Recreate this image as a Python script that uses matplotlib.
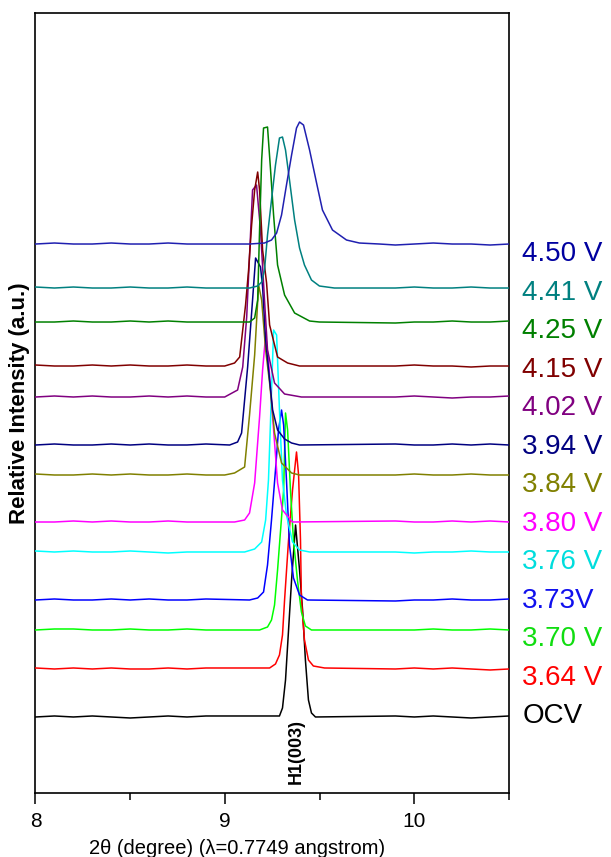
import matplotlib
matplotlib.use("Agg")
import matplotlib.pyplot as plt

plt.rcParams['font.family'] = ['Liberation Sans', 'DejaVu Sans']

# shared baseline positions (2theta) left and right of the (003) peak
wing_left = [8.0, 8.1, 8.2, 8.3, 8.4, 8.5, 8.6, 8.7, 8.8, 8.9]
wing_right = [9.9, 10.0, 10.1, 10.2, 10.3, 10.4, 10.5]

# OCV
ocv_left = [0, 1, 0, 1, 0, -1, 0, 1, 0, 1]
ocv_tt = [9.288, 9.304, 9.320, 9.336, 9.352, 9.373, 9.394, 9.410, 9.425, 9.441, 9.457, 9.478]
ocv_i = [1, 9, 37, 87, 137, 192, 147, 107, 57, 17, 4, 0]
ocv_right = [1, 0, 1, 0, -1, 0, 1]

# 3.64 V
v364_left = [1, 0, 1, 0, 1, 0, 0, 1, 0, 1]
v364_tt = [9.236, 9.267, 9.288, 9.304, 9.315, 9.336, 9.357, 9.378, 9.389, 9.399, 9.404, 9.420, 9.441, 9.467, 9.526]
v364_i = [1, 5, 14, 34, 69, 129, 179, 217, 194, 129, 69, 29, 9, 3, 1]
v364_right = [0, 1, 0, 1, 0, -1, 0]

# 3.70 V
v370_left = [0, 1, 1, 0, 0, 1, 0, 0, 1, 0]
v370_tt = [9.183, 9.225, 9.246, 9.262, 9.278, 9.294, 9.310, 9.320, 9.331, 9.346, 9.362, 9.383, 9.404, 9.425, 9.457]
v370_i = [0, 3, 10, 25, 60, 100, 140, 217, 200, 140, 90, 50, 18, 4, 0]
v370_right = [0, 0, 1, 0, 0, 1, 0]

# 3.73 V
v373_left = [0, 1, 0, 0, 1, 0, 1, 0, 0, 1]
v373_tt = [9.130, 9.173, 9.204, 9.225, 9.246, 9.267, 9.283, 9.299, 9.310, 9.325, 9.341, 9.362, 9.394, 9.436]
v373_i = [0, 2, 8, 35, 80, 130, 170, 190, 175, 120, 55, 22, 5, 0]
v373_right = [-1, 0, 0, 1, 0, 0, 1]

# 3.76 V
v376_left = [1, 0, 1, 0, 0, 1, 0, -1, 0, 0]
v376_tt = [9.104, 9.157, 9.194, 9.215, 9.230, 9.241, 9.257, 9.273, 9.288, 9.304, 9.325, 9.357, 9.394, 9.447]
v376_i = [0, 3, 10, 32, 72, 132, 222, 217, 142, 72, 37, 10, 2, 0]
v376_right = [0, -1, 0, 0, 1, 0, 0]

# 3.80 V
v380_left = [0, 0, 1, 0, 1, 0, 0, 1, 0, 0]
v380_tt = [9.051, 9.104, 9.130, 9.157, 9.183, 9.199, 9.215, 9.230, 9.252, 9.278, 9.304, 9.357]
v380_i = [0, 2, 9, 39, 105, 152, 187, 162, 105, 39, 12, 0]
v380_right = [1, 0, 0, 1, 0, 1, 0]

# 3.84 V
v384_left = [1, 0, 0, 1, 0, 1, 0, 0, 1, 0]
v384_tt = [8.999, 9.051, 9.104, 9.130, 9.157, 9.178, 9.194, 9.215, 9.236, 9.262, 9.299, 9.352, 9.394]
v384_i = [0, 2, 8, 60, 120, 190, 175, 125, 92, 42, 12, 2, 0]
v384_right = [0, 1, 0, 0, 1, 0, 0]

# 3.94 V
v394_left = [0, 1, 0, 0, 1, 0, 1, 0, 0, 1]
v394_tt = [9.025, 9.067, 9.088, 9.120, 9.146, 9.162, 9.188, 9.199, 9.215, 9.236, 9.252, 9.278, 9.315, 9.352, 9.394]
v394_i = [0, 3, 12, 78, 145, 187, 178, 158, 105, 65, 35, 15, 6, 2, 0]
v394_right = [1, 0, 0, 1, 0, 1, 0]

# 4.02 V
v402_left = [0, 1, 0, 1, 0, 0, 1, 0, 1, 0]
v402_tt = [8.999, 9.067, 9.094, 9.115, 9.146, 9.167, 9.188, 9.209, 9.225, 9.262, 9.315, 9.404]
v402_i = [0, 7, 30, 80, 207, 212, 167, 97, 47, 14, 3, 0]
v402_right = [0, 1, 0, -1, 0, 0, 1]

# 4.15 V
v415_left = [1, 0, 0, 1, 0, 1, 0, 0, 1, 0]
v415_tt = [8.999, 9.051, 9.078, 9.094, 9.109, 9.125, 9.141, 9.157, 9.173, 9.183, 9.199, 9.220, 9.236, 9.278, 9.331, 9.394]
v415_i = [0, 3, 9, 36, 61, 96, 141, 176, 194, 176, 116, 83, 41, 9, 3, 0]
v415_right = [0, 1, 0, 0, -1, 0, 0]

# 4.25 V
v425_left = [0, 0, 1, 0, 0, 1, 0, 1, 0, 0]
v425_tt = [9.051, 9.130, 9.157, 9.173, 9.183, 9.194, 9.204, 9.225, 9.241, 9.257, 9.278, 9.315, 9.368, 9.447, 9.499]
v425_i = [0, 0, 4, 22, 92, 162, 194, 195, 152, 107, 57, 27, 9, 1, 0]
v425_right = [-1, 0, 0, 1, 0, 0, 1]

# 4.41 V
v441_left = [1, 0, 1, 0, 0, 1, 0, 0, 1, 0]
v441_tt = [9.130, 9.173, 9.194, 9.209, 9.225, 9.246, 9.267, 9.288, 9.304, 9.320, 9.341, 9.368, 9.394, 9.420, 9.457, 9.499, 9.578]
v441_i = [0, 2, 6, 18, 53, 88, 123, 150, 151, 138, 108, 68, 40, 23, 8, 2, 0]
v441_right = [0, 1, 0, 0, 1, 0, 0]

# 4.50 V
v450_left = [0, 1, 0, 0, 1, 0, 0, 1, 0, 0]
v450_tt = [9.130, 9.209, 9.246, 9.273, 9.299, 9.325, 9.352, 9.378, 9.394, 9.415, 9.447, 9.484, 9.515, 9.568, 9.642, 9.710, 9.816]
v450_i = [0, 1, 4, 11, 29, 59, 89, 116, 122, 119, 94, 61, 34, 14, 4, 1, 0]
v450_right = [-1, 0, 1, 0, 0, -1, 0]

labels = ['OCV', '3.64 V', '3.70 V', '3.73V', '3.76 V', '3.80 V', '3.84 V',
          '3.94 V', '4.02 V', '4.15 V', '4.25 V', '4.41 V', '4.50 V']
offsets = [76, 124, 163, 193, 241, 271, 318, 348, 396, 427, 471, 505, 549]
line_colors = ['#000000', '#ff0000', '#00ff00', '#0000ff', '#00ffff', '#ff00ff', '#808000',
               '#000080', '#800080', '#800000', '#008000', '#008080', '#2020b0']
label_colors = ['#000000', '#ff0000', '#10dd10', '#1010ee', '#00dddd', '#ff00ff', '#808000',
                '#000080', '#800080', '#800000', '#008000', '#008080', '#0000a0']

curves = [
    (ocv_left, ocv_tt, ocv_i, ocv_right),
    (v364_left, v364_tt, v364_i, v364_right),
    (v370_left, v370_tt, v370_i, v370_right),
    (v373_left, v373_tt, v373_i, v373_right),
    (v376_left, v376_tt, v376_i, v376_right),
    (v380_left, v380_tt, v380_i, v380_right),
    (v384_left, v384_tt, v384_i, v384_right),
    (v394_left, v394_tt, v394_i, v394_right),
    (v402_left, v402_tt, v402_i, v402_right),
    (v415_left, v415_tt, v415_i, v415_right),
    (v425_left, v425_tt, v425_i, v425_right),
    (v441_left, v441_tt, v441_i, v441_right),
    (v450_left, v450_tt, v450_i, v450_right),
]

fig = plt.figure(figsize=(6.11, 8.57), dpi=100)
ax = fig.add_axes([0.0581, 0.0747, 0.775, 0.9101])

for k, (lw_, tt, inten, rw) in enumerate(curves):
    x = wing_left + tt + wing_right
    y = [v + offsets[k] for v in lw_ + inten + rw]
    ax.plot(x, y, color=line_colors[k], lw=1.1, zorder=2 + k)

# voltage labels, evenly stacked at the right of the frame
n = len(labels)
for k, lab in enumerate(labels):
    ypos = 0.0987 + k * (0.691 - 0.0987) / (n - 1)
    ax.text(1.028, ypos, lab, transform=ax.transAxes, color=label_colors[k],
            fontsize=20, ha='left', va='center', clip_on=False)

ax.text(9.378, 41, 'H1(003)', rotation=90, fontsize=13, fontweight='bold',
        ha='center', va='center')

ax.set_xlim(8, 10.5)
ax.set_ylim(0, 780)
ax.set_xticks([8, 9, 10])
ax.set_xticklabels(['8', '9', '10'])
ax.set_xticks([8.5, 9.5, 10.5], minor=True)
ax.set_yticks([])
ax.tick_params(axis='x', which='major', direction='out', length=8, width=1.1,
               labelsize=15, pad=6)
ax.tick_params(axis='x', which='minor', direction='out', length=5, width=1.1)
for s in ax.spines.values():
    s.set_linewidth(1.2)

ax.set_ylabel('Relative Intensity (a.u.)', fontsize=16, fontweight='bold', labelpad=4)
fig.text(237 / 611, 1 - 848 / 857, '2\u03b8 (degree) (\u03bb=0.7749 angstrom)',
         fontsize=14.5, ha='center', va='center')

fig.savefig('out.png', dpi=100)
